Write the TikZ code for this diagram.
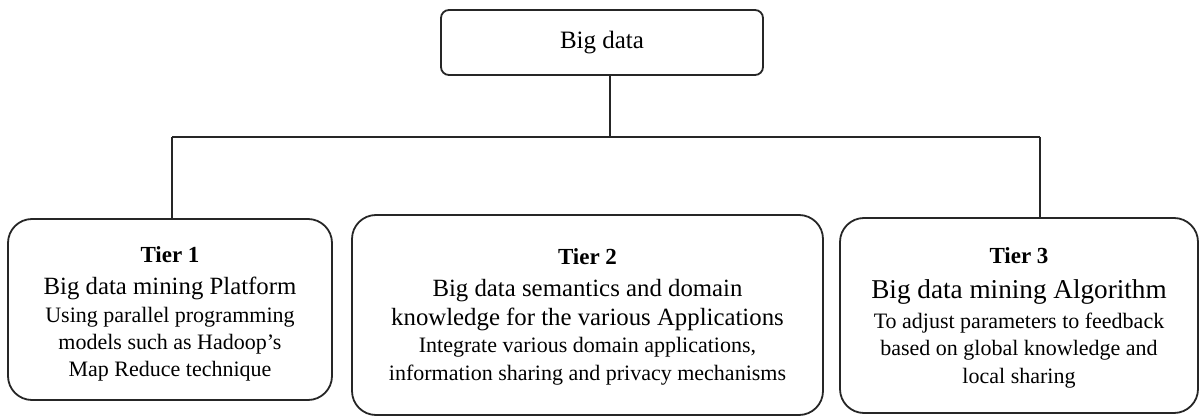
\documentclass[tikz,border=0pt]{standalone}
\usepackage{fontspec}
\setmainfont{Liberation Serif}
\usetikzlibrary{positioning}
\newcommand{\tiername}[2]{{\bfseries\fontsize{11.5}{13.5}\selectfont\rule{0pt}{#1}#2}}
\newcommand{\tiertitle}[1]{{\fontsize{12.4}{13.5}\selectfont #1}}
\newcommand{\tierdesc}[1]{{\fontsize{11}{13.5}\selectfont #1}}

\begin{document}
\begin{tikzpicture}[
    x=0.5pt, y=-0.5pt,
    rootbox/.style={rectangle, draw=black!85, line width=0.9pt,
                    rounded corners=4pt, minimum width=161pt,
                    minimum height=32.5pt, align=center,
                    font=\fontsize{12.5}{15}\selectfont},
    tierbox/.style={rectangle, draw=black!85, line width=0.9pt,
                    rounded corners=12pt, align=center, inner sep=2pt,
                    font=\fontsize{11}{13.5}\selectfont},
    link/.style={draw=black!85, line width=0.8pt}
  ]
    \useasboundingbox (0,0) rectangle (1200,417);

    \node[rootbox] (bigdata) at (602,42.5) {Big data};

    \node[tierbox, minimum width=162pt, minimum height=90.5pt] (tier1) at (170,309.5)
      {\tiername{12.6pt}{Tier 1}\\[2.5pt]
       \tiertitle{Big data mining Platform}\\[0.5pt]
       \tierdesc{Using parallel programming}\\
       \tierdesc{models such as Hadoop’s}\\
       \tierdesc{Map Reduce technique}};
    \node[tierbox, minimum width=235.5pt, minimum height=100pt] (tier2) at (587.5,315)
      {\tiername{9.6pt}{Tier 2}\\[2.5pt]
       \tiertitle{Big data semantics and domain}\\[1pt]
       \tiertitle{knowledge for the various Applications}\\
       \tierdesc{Integrate various domain applications,}\\[0.5pt]
       \tierdesc{information sharing and privacy mechanisms}};
    \node[tierbox, minimum width=179pt, minimum height=97.5pt] (tier3) at (1019,315.5)
      {\tiername{10.6pt}{Tier 3}\\[4pt]
       {\fontsize{13.6}{13.5}\selectfont Big data mining Algorithm}\\[1.5pt]
       \tierdesc{To adjust parameters to feedback}\\
       \tierdesc{based on global knowledge and}\\[0.5pt]
       \tierdesc{local sharing}};

    \coordinate (split) at (610,137);
    \coordinate (leftdrop) at (172,137);
    \coordinate (rightdrop) at (1040,137);

    \draw[link] (bigdata.south -| split) -- (split);
    \draw[link] (leftdrop) -- (rightdrop);
    \draw[link] (leftdrop) -- (leftdrop |- tier1.north);
    \draw[link] (rightdrop) -- (rightdrop |- tier3.north);
  \end{tikzpicture}
\end{document}
